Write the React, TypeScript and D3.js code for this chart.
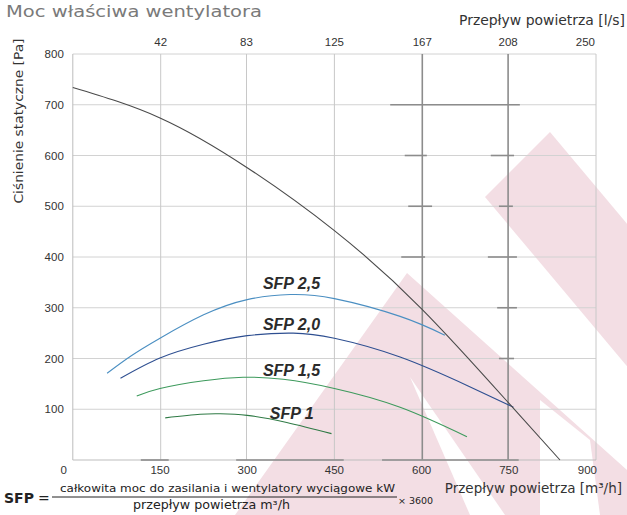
import React, { useEffect, useRef } from "react";
import { select, scaleLinear, line, curveNatural } from "d3";

const W = 627;
const H = 515;
const PLOT = { left: 72.8, right: 596, top: 54, bottom: 460 };

// axes
const flowTicks = [0, 150, 300, 450, 600, 750, 900]; // m³/h
const lsTicks = [42, 83, 125, 167, 208, 250]; // l/s
const lsHeavy = [167, 208];
const paTicks = [0, 100, 200, 300, 400, 500, 600, 700, 800];

// fan characteristic [m³/h, Pa]
const fanCurve: [number, number][] = [
  [0, 734], [150, 674], [300, 576], [450, 452], [600, 298], [750, 112], [838, 0],
];

// SFP iso-lines [m³/h, Pa]
const sfp25: [number, number][] = [
  [59, 171], [100, 205], [150, 240], [225, 286], [300, 316], [374, 326],
  [450, 318], [563, 283], [640, 246],
];
const sfp20: [number, number][] = [
  [82, 161], [150, 201], [225, 228], [300, 245], [379, 250], [450, 240],
  [563, 203], [680, 146], [758, 104],
];
const sfp15: [number, number][] = [
  [110, 126], [150, 141], [225, 156], [293, 163], [362, 159], [450, 141],
  [563, 104], [678, 46],
];
const sfp10: [number, number][] = [
  [159, 83], [219, 90], [253, 91], [300, 88], [368, 74], [445, 52],
];
const sfpSeries = [sfp25, sfp20, sfp15, sfp10];
const sfpNames = ["SFP 2,5", "SFP 2,0", "SFP 1,5", "SFP 1"];
const sfpColors = ["#4b8fc2", "#2e4f91", "#3d9a5c", "#2f7a45"];
const sfpLabelAt: [number, number][] = [[327, 337], [327, 256], [327, 165], [339, 81]];

// short dark bars on the working-range lines [from, to, Pa]
const markerBars: [number, number, number][] = [
  [546, 769, 700],
  [571, 609, 600], [719, 759, 600],
  [577, 618, 500], [733, 757, 500],
  [565, 606, 400], [714, 764, 400],
  [730, 764, 300],
  [733, 759, 200],
];
const baseBars: [number, number][] = [[117, 165], [281, 466], [532, 767]];

// background watermark (pixel space)
const watermark: [number, number][][] = [
  [[550, 132], [485, 197], [757, 521], [825, 460]],
  [[407, 273], [235, 515], [660, 515], [627, 470]],
];
const watermarkCuts: [number, number][][] = [
  [[410, 377], [470, 515], [505, 515]],
  [[540, 400], [540, 515], [600, 515], [590, 440]],
];

export default function App() {
  const ref = useRef<SVGSVGElement>(null);

  useEffect(() => {
    if (!ref.current) return;
    const svg = select(ref.current);
    svg.selectAll("*").remove();

    const x = scaleLinear().domain([0, 900]).range([PLOT.left, PLOT.right]);
    const y = scaleLinear().domain([0, 800]).range([PLOT.bottom, PLOT.top]);

    // watermark
    const poly = (pts: [number, number][]) => "M" + pts.map((p) => p.join(",")).join("L") + "Z";
    svg.selectAll("path.wm").data(watermark).join("path")
      .attr("class", "wm").attr("d", poly).attr("fill", "#f3dee4");
    svg.selectAll("path.cut").data(watermarkCuts).join("path")
      .attr("class", "cut").attr("d", poly).attr("fill", "#fff");

    // horizontal grid
    svg.selectAll("line.hgrid").data(paTicks.filter((d) => d > 0)).join("line")
      .attr("class", "hgrid")
      .attr("x1", PLOT.left).attr("x2", PLOT.right)
      .attr("y1", (d) => y(d)).attr("y2", (d) => y(d))
      .attr("stroke", "#d2d2d2").attr("stroke-width", 1);

    // vertical grid on l/s ticks
    svg.selectAll("line.vgrid").data(lsTicks).join("line")
      .attr("class", "vgrid")
      .attr("x1", (d) => x(d * 3.6)).attr("x2", (d) => x(d * 3.6))
      .attr("y1", PLOT.top).attr("y2", PLOT.bottom)
      .attr("stroke", (d) => (lsHeavy.includes(d) ? "#8c8c8c" : "#c8c8c8"))
      .attr("stroke-width", (d) => (lsHeavy.includes(d) ? 1.6 : 1));

    // axis lines
    svg.append("line")
      .attr("x1", PLOT.left).attr("x2", PLOT.left)
      .attr("y1", PLOT.top).attr("y2", PLOT.bottom)
      .attr("stroke", "#bdbdbd");
    svg.append("line")
      .attr("x1", PLOT.left).attr("x2", PLOT.right)
      .attr("y1", PLOT.bottom).attr("y2", PLOT.bottom)
      .attr("stroke", "#bdbdbd");

    svg.selectAll("line.mbar").data(markerBars).join("line")
      .attr("class", "mbar")
      .attr("x1", (d) => x(d[0])).attr("x2", (d) => x(d[1]))
      .attr("y1", (d) => y(d[2])).attr("y2", (d) => y(d[2]))
      .attr("stroke", "#8c8c8c").attr("stroke-width", 1.6);
    svg.selectAll("line.bbar").data(baseBars).join("line")
      .attr("class", "bbar")
      .attr("x1", (d) => x(d[0])).attr("x2", (d) => x(d[1]))
      .attr("y1", y(0)).attr("y2", y(0))
      .attr("stroke", "#8c8c8c").attr("stroke-width", 1.6);

    // curves
    const ln = line<[number, number]>().x((d) => x(d[0])).y((d) => y(d[1])).curve(curveNatural);
    svg.selectAll("path.sfp").data(sfpSeries).join("path")
      .attr("class", "sfp")
      .attr("d", (d) => ln(d))
      .attr("fill", "none")
      .attr("stroke", (_, i) => sfpColors[i])
      .attr("stroke-width", 1.1);
    svg.append("path").datum(fanCurve)
      .attr("d", ln).attr("fill", "none")
      .attr("stroke", "#4a4a4a").attr("stroke-width", 1.1);

    svg.selectAll("text.sfpl").data(sfpNames).join("text")
      .attr("class", "sfpl")
      .attr("x", (_, i) => x(sfpLabelAt[i][0]))
      .attr("y", (_, i) => y(sfpLabelAt[i][1]))
      .attr("font-family", "Liberation Sans, Arial, sans-serif")
      .attr("font-size", "16px").attr("font-weight", "bold").attr("font-style", "italic")
      .attr("fill", "#2b2b2b")
      .text((d) => d);

    // tick labels (the shared "0" is written once, under the corner)
    const tickFont = "Liberation Sans, Arial, sans-serif";
    svg.selectAll("text.ylab").data(paTicks.filter((d) => d > 0)).join("text")
      .attr("class", "ylab")
      .attr("x", PLOT.left - 9).attr("y", (d) => y(d))
      .attr("dy", "0.35em")
      .attr("text-anchor", "end")
      .attr("font-family", tickFont).attr("font-size", "11.5px").attr("fill", "#333")
      .text((d) => `${d}`);
    svg.selectAll("text.xlab").data(flowTicks).join("text")
      .attr("class", "xlab")
      .attr("x", (d, i) => (i === 0 ? x(d) - 6 : i === flowTicks.length - 1 ? x(d) + 1 : x(d)))
      .attr("y", PLOT.bottom + 14)
      .attr("text-anchor", (_, i) => (i === 0 || i === flowTicks.length - 1 ? "end" : "middle"))
      .attr("font-family", tickFont).attr("font-size", "11.5px").attr("fill", "#333")
      .text((d) => `${d}`);
    svg.selectAll("text.tlab").data(lsTicks).join("text")
      .attr("class", "tlab")
      .attr("x", (d, i) => (i === lsTicks.length - 1 ? x(d * 3.6) - 1 : x(d * 3.6)))
      .attr("y", PLOT.top - 8)
      .attr("text-anchor", (_, i) => (i === lsTicks.length - 1 ? "end" : "middle"))
      .attr("font-family", tickFont).attr("font-size", "11.5px").attr("fill", "#333")
      .text((d) => `${d}`);

    // titles
    const tahoma = "DejaVu Sans, Verdana, sans-serif";
    svg.append("text")
      .attr("x", 6).attr("y", 17)
      .attr("font-family", tahoma).attr("font-size", "16.5px").attr("fill", "#7a7a7a")
      .attr("textLength", 256).attr("lengthAdjust", "spacingAndGlyphs")
      .text("Moc właściwa wentylatora");
    svg.append("text")
      .attr("x", 625).attr("y", 25).attr("text-anchor", "end")
      .attr("font-family", tahoma).attr("font-size", "13.5px").attr("fill", "#333")
      .attr("textLength", 166).attr("lengthAdjust", "spacingAndGlyphs")
      .text("Przepływ powietrza [l/s]");
    svg.append("text")
      .attr("transform", `translate(23,121) rotate(-90)`)
      .attr("text-anchor", "middle")
      .attr("font-family", tahoma).attr("font-size", "13px").attr("fill", "#333")
      .attr("textLength", 165).attr("lengthAdjust", "spacingAndGlyphs")
      .text("Ciśnienie statyczne [Pa]");
    svg.append("text")
      .attr("x", 622).attr("y", 493).attr("text-anchor", "end")
      .attr("font-family", tahoma).attr("font-size", "13.5px").attr("fill", "#333")
      .text("Przepływ powietrza [m³/h]");

    // formula
    svg.append("text")
      .attr("x", 4).attr("y", 503)
      .attr("font-family", tahoma).attr("font-size", "14px").attr("font-weight", "bold").attr("fill", "#222")
      .text("SFP");
    svg.append("text")
      .attr("x", 38).attr("y", 503)
      .attr("font-family", tahoma).attr("font-size", "14px").attr("fill", "#222")
      .text("=");
    svg.append("text")
      .attr("x", 60).attr("y", 492)
      .attr("font-family", tahoma).attr("font-size", "11px").attr("fill", "#222")
      .attr("textLength", 335).attr("lengthAdjust", "spacingAndGlyphs")
      .text("całkowita moc do zasilania i wentylatory wyciągowe kW");
    svg.append("line")
      .attr("x1", 52).attr("x2", 397).attr("y1", 497).attr("y2", 497)
      .attr("stroke", "#222").attr("stroke-width", 1);
    svg.append("text")
      .attr("x", 133).attr("y", 509)
      .attr("font-family", tahoma).attr("font-size", "11.5px").attr("fill", "#222")
      .attr("textLength", 157).attr("lengthAdjust", "spacingAndGlyphs")
      .text("przepływ powietrza m³/h");
    svg.append("text")
      .attr("x", 398).attr("y", 504)
      .attr("font-family", tahoma).attr("font-size", "9.5px").attr("fill", "#222")
      .text("× 3600");
  }, []);

  return (
    <svg
      ref={ref}
      width={W}
      height={H}
      viewBox={`0 0 ${W} ${H}`}
      style={{ position: "absolute", left: 0, top: 0, background: "#fff" }}
    />
  );
}
